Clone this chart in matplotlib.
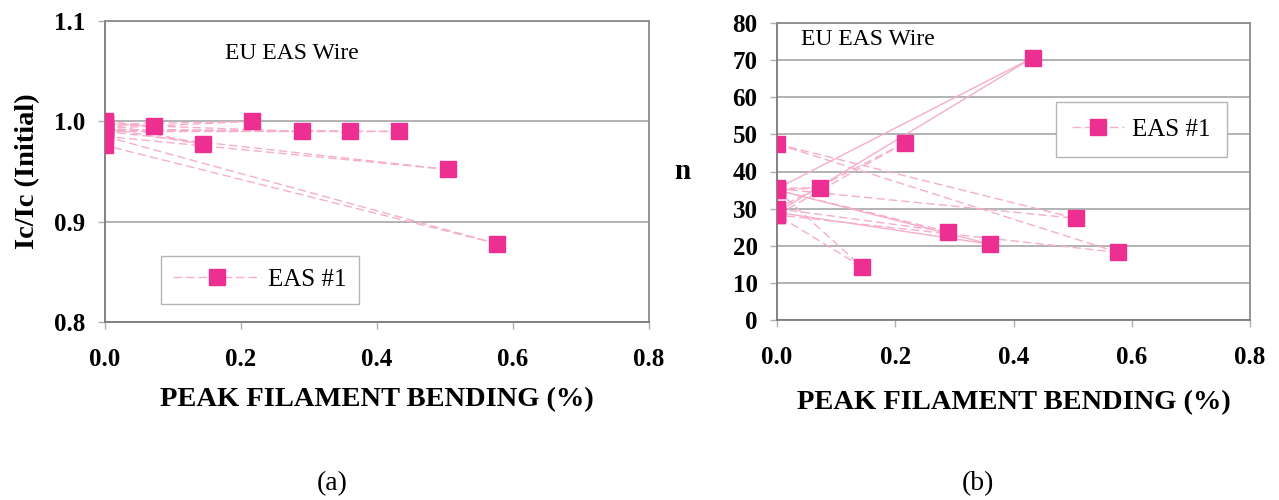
import matplotlib
matplotlib.use("Agg")
import matplotlib.pyplot as plt
from matplotlib.lines import Line2D

plt.rcParams['font.family'] = ['Liberation Serif', 'DejaVu Serif']

# bending strain sequence: each step is loaded, then released back to zero
bend = [0, 0.072, 0, 0.144, 0, 0.216, 0, 0.289, 0, 0.361, 0, 0.433, 0, 0.505, 0, 0.577, 0]

# (a) normalized critical current
ic_ratio = [1.000, 0.995, 0.998, 0.977, 0.993, 1.000, 0.997, 0.990, 0.992,
            0.990, 0.991, 0.990, 0.990, 0.952, 0.985, 0.878, 0.976]

# (b) n-value
n_value = [35.5, 35.6, 35.0, 14.3, 28.3, 47.7, 30.0, 23.8, 35.0,
           20.4, 29.0, 70.7, 35.4, 27.4, 47.4, 18.2, 28.3]
# segments of (b) drawn solid instead of dashed
n_solid = [8, 9, 10, 11]

series_label = "EAS #1"
wire_label = "EU EAS Wire"

MARK = '#EE2F92'
LINE = '#F5AECB'
FRAME = '#8c8c8c'
GRID = '#a6a6a6'

W, H = 1279, 500
fig = plt.figure(figsize=(W / 100, H / 100), dpi=100)


def px_rect(x0, y0, x1, y1):
    return [x0 / W, 1 - y1 / H, (x1 - x0) / W, (y1 - y0) / H]


def style_axes(ax):
    for s in ax.spines.values():
        s.set_color(FRAME)
        s.set_linewidth(1.3)
    for s in ('left', 'bottom'):
        ax.spines[s].set_color('#7a7a7a')
    ax.yaxis.grid(True, color=GRID, linewidth=1.2)
    ax.set_axisbelow(True)
    ax.tick_params(direction='out', length=5, width=1, color='#b0b0b0',
                   labelsize=18)
    ax.tick_params(axis='x', pad=14)
    ax.tick_params(axis='y', pad=9)
    for lab in ax.get_xticklabels() + ax.get_yticklabels():
        lab.set_fontweight('bold')
    ax.set_xlabel("PEAK FILAMENT BENDING (%)", fontsize=20.5, fontweight='bold',
                  labelpad=11)


def draw_series(ax, xs, ys, solid=()):
    for i in range(len(xs) - 1):
        ls = '-' if i in solid else (0, (6, 3))
        ax.plot(xs[i:i + 2], ys[i:i + 2], color=LINE, linewidth=1.0,
                linestyle=ls, zorder=2)
    ax.plot(xs, ys, linestyle='none', marker='s', markersize=11,
            markerfacecolor=MARK, markeredgecolor=MARK, zorder=3)


def add_legend(ax, loc, hlen, bpad):
    handle = Line2D([], [], color=LINE, linewidth=1.0, linestyle=(0, (6, 3)),
                    marker='s', markersize=11, markerfacecolor=MARK,
                    markeredgecolor=MARK)
    leg = ax.legend([handle], [series_label], loc='center',
                    bbox_to_anchor=loc, fontsize=18, handlelength=hlen,
                    fancybox=False, framealpha=1, edgecolor='#b5b5b5',
                    borderpad=bpad, handletextpad=0.3, borderaxespad=0)
    leg.get_frame().set_linewidth(1.0)


# (a) Ic / Ic(initial)
ax1 = fig.add_axes(px_rect(105, 21, 649, 322))
draw_series(ax1, bend, ic_ratio)
ax1.set_xlim(0, 0.8)
ax1.set_ylim(0.8, 1.1)
ax1.set_xticks([0, 0.2, 0.4, 0.6, 0.8])
ax1.set_xticklabels(['0.0', '0.2', '0.4', '0.6', '0.8'])
ax1.set_yticks([0.8, 0.9, 1.0, 1.1])
ax1.set_yticklabels(['0.8', '0.9', '1.0', '1.1'])
style_axes(ax1)
ax1.set_ylabel("Ic/Ic (Initial)", fontsize=20.5, fontweight='bold', labelpad=10)
ax1.text(0.275, 1.068, wire_label, fontsize=17, ha='center', va='center')
add_legend(ax1, (0.285, 0.14), 3.5, 0.5)

# (b) n-value
ax2 = fig.add_axes(px_rect(777, 23, 1250, 320))
draw_series(ax2, bend, n_value, n_solid)
ax2.set_xlim(0, 0.8)
ax2.set_ylim(0, 80)
ax2.set_xticks([0, 0.2, 0.4, 0.6, 0.8])
ax2.set_xticklabels(['0.0', '0.2', '0.4', '0.6', '0.8'])
ax2.set_yticks(range(0, 81, 10))
style_axes(ax2)
ax2.xaxis.labelpad = 15
ax2.set_ylabel("n", fontsize=21, fontweight='bold', rotation=0,
               labelpad=36, va='center')
ax2.text(0.04, 75.5, wire_label, fontsize=17, ha='left', va='center')
add_legend(ax2, (0.77, 0.64), 2.1, 0.65)

fig.text(332 / W, 1 - 484 / H, "(a)", fontsize=20, ha='center', va='center')
fig.text(978 / W, 1 - 484 / H, "(b)", fontsize=20, ha='center', va='center')

fig.savefig("out.png", dpi=100, facecolor='white')
